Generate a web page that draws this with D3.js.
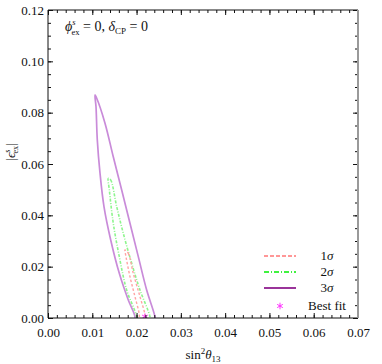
<!DOCTYPE html>
<html>
<head>
<meta charset="utf-8">
<script src="https://cdn.jsdelivr.net/npm/d3@7"></script>
<style>
  body { margin: 0; background: #fff; }
  text { font-family: "Liberation Serif", "DejaVu Serif", serif; fill: #111; }
</style>
</head>
<body>
<div id="chart"></div>
<script>
// contour points: [sin^2 theta13, |eps^s_ex|]
// each list goes from the tip down the right edge, then back up the left edge
const sigma3 = [
  [0.01061, 0.0869], [0.0110, 0.0856], [0.01287, 0.0759], [0.01474, 0.0628],
  [0.01664, 0.0499], [0.01851, 0.0369], [0.02039, 0.0239], [0.02228, 0.0109],
  [0.02416, 0.0005], [0.0244, -0.003], [0.0196, -0.003],
  [0.01964, 0.0005], [0.01813, 0.0070], [0.01610, 0.0174], [0.01416, 0.0304],
  [0.01264, 0.0434], [0.01174, 0.0565], [0.01113, 0.0694], [0.01084, 0.0823]
];
const sigma2 = [
  [0.01362, 0.0544], [0.01415, 0.0538], [0.01551, 0.0434], [0.0170, 0.0330],
  [0.0189, 0.0213], [0.02077, 0.0109], [0.02303, 0.0005], [0.0232, -0.003],
  [0.0200, -0.003], [0.02002, 0.0005], [0.01776, 0.0109], [0.0161, 0.0239],
  [0.01474, 0.0369], [0.01385, 0.0499]
];
const sigma1 = [
  [0.01739, 0.0265], [0.01813, 0.0252], [0.01926, 0.0174], [0.02077, 0.0083],
  [0.0219, 0.0012], [0.0220, -0.003], [0.0206, -0.003], [0.02062, 0.0012],
  [0.01964, 0.0083], [0.01851, 0.0161], [0.01761, 0.0239]
];
const best_fit = [0.0219, 0.0005];

const x_ticks = [0, 0.01, 0.02, 0.03, 0.04, 0.05, 0.06, 0.07];
const y_ticks = [0, 0.02, 0.04, 0.06, 0.08, 0.10, 0.12];
const legend_labels = ['1σ', '2σ', '3σ'];
const legend_colors = ['#ff7575', '#00ee00', '#800080'];
const legend_dash = ['4,2', '5,2,1,2', null];

const margin = { top: 10, right: 24, bottom: 46, left: 48 };
const width = 382 - margin.left - margin.right;
const height = 364 - margin.top - margin.bottom;

const x = d3.scaleLinear().domain([0, 0.07]).range([0, width]);
const y = d3.scaleLinear().domain([0, 0.12]).range([height, 0]);

const svg = d3.select('#chart')
  .append('svg')
  .attr('width', 382)
  .attr('height', 364)
  .append('g')
  .attr('transform', `translate(${margin.left}, ${margin.top})`);

svg.append('clipPath')
  .attr('id', 'clip')
  .append('rect')
  .attr('width', width)
  .attr('height', height);

const contour = d3.line()
  .x((d) => x(d[0]))
  .y((d) => y(d[1]))
  .curve(d3.curveCatmullRomClosed.alpha(0.5));

const plot = svg.append('g').attr('clip-path', 'url(#clip)');

plot.append('path')
  .attr('d', contour(sigma3))
  .attr('fill', 'none')
  .attr('stroke', '#c98bd9')
  .attr('stroke-width', 1.7);

plot.append('path')
  .attr('d', contour(sigma2))
  .attr('fill', 'none')
  .attr('stroke', '#8df58d')
  .attr('stroke-width', 1.6)
  .attr('stroke-dasharray', '3,1.5,1,1.5');

plot.append('path')
  .attr('d', contour(sigma1))
  .attr('fill', 'none')
  .attr('stroke', '#ffa3a3')
  .attr('stroke-width', 1.4)
  .attr('stroke-dasharray', '2.5,2');

const star = d3.symbol().type(d3.symbolAsterisk).size(30);
plot.append('path')
  .attr('d', star())
  .attr('transform', `translate(${x(best_fit[0])}, ${y(best_fit[1])})`)
  .attr('fill', 'none')
  .attr('stroke', '#ff33ff')
  .attr('stroke-width', 1);

// axes: ticks point inward
const minor_x = d3.range(0, 0.0701, 0.002);
const minor_y = d3.range(0, 0.1201, 0.005);

function style_axis(g) {
  g.selectAll('path.domain').remove();
  g.selectAll('line').attr('stroke', '#111');
  g.selectAll('text')
    .style('font-size', '13px')
    .style('font-family', '"Liberation Serif", serif');
}

svg.append('g')
  .attr('transform', `translate(0, ${height})`)
  .call(d3.axisBottom(x).tickValues(minor_x).tickSize(-3).tickFormat(''))
  .call(style_axis);
svg.append('g')
  .attr('transform', `translate(0, ${height})`)
  .call(d3.axisBottom(x).tickValues(x_ticks).tickSize(-5).tickPadding(10).tickFormat(d3.format('.2f')))
  .call(style_axis);

svg.append('g')
  .call(d3.axisTop(x).tickValues(minor_x).tickSize(-3).tickFormat(''))
  .call(style_axis);
svg.append('g')
  .call(d3.axisTop(x).tickValues(x_ticks).tickSize(-5).tickFormat(''))
  .call(style_axis);

svg.append('g')
  .call(d3.axisLeft(y).tickValues(minor_y).tickSize(-3).tickFormat(''))
  .call(style_axis);
svg.append('g')
  .call(d3.axisLeft(y).tickValues(y_ticks).tickSize(-5).tickPadding(4).tickFormat(d3.format('.2f')))
  .call(style_axis);

svg.append('g')
  .attr('transform', `translate(${width}, 0)`)
  .call(d3.axisRight(y).tickValues(minor_y).tickSize(-3).tickFormat(''))
  .call(style_axis);
svg.append('g')
  .attr('transform', `translate(${width}, 0)`)
  .call(d3.axisRight(y).tickValues(y_ticks).tickSize(-5).tickFormat(''))
  .call(style_axis);

// frame
svg.append('line').attr('x1', 0).attr('x2', width).attr('y1', height).attr('y2', height).attr('stroke', '#111');
svg.append('line').attr('x1', 0).attr('x2', width).attr('y1', 0).attr('y2', 0).attr('stroke', '#111');
svg.append('line').attr('x1', 0).attr('x2', 0).attr('y1', 0).attr('y2', height).attr('stroke', '#111');
svg.append('line').attr('x1', width).attr('x2', width).attr('y1', 0).attr('y2', height)
  .attr('stroke', '#9a9a9a').attr('stroke-width', 2);

// axis titles
const xl = svg.append('text')
  .attr('x', width / 2)
  .attr('y', height + 41)
  .attr('text-anchor', 'middle')
  .style('font-size', '13px');
xl.append('tspan').text('sin');
xl.append('tspan').attr('dy', -5).style('font-size', '9px').text('2');
xl.append('tspan').attr('dy', 5).style('font-style', 'italic').text('θ');
xl.append('tspan').attr('dy', 3).style('font-size', '9px').text('13');

const yl = svg.append('text')
  .attr('transform', `translate(${-33}, ${142}) rotate(-90)`)
  .attr('text-anchor', 'middle')
  .style('font-size', '13px');
yl.append('tspan').text('|');
yl.append('tspan').style('font-style', 'italic').text('ϵ');
yl.append('tspan').attr('dy', -5).style('font-size', '8px').style('font-style', 'italic').text('s');
yl.append('tspan').attr('dx', -4).attr('dy', 8).style('font-size', '8px').text('ex');
yl.append('tspan').attr('dy', -3).text('|');

// annotation (superscript s stacked over subscript ex)
const ann = svg.append('text')
  .attr('x', 17)
  .attr('y', 21)
  .style('font-size', '14px');
ann.append('tspan').style('font-style', 'italic').text('ϕ');
ann.append('tspan').attr('dy', -6).style('font-size', '8.5px').style('font-style', 'italic').text('s');
ann.append('tspan').attr('dx', -4).attr('dy', 10).style('font-size', '8.5px').text('ex');
ann.append('tspan').attr('dy', -4).text(' = 0, ');
ann.append('tspan').style('font-style', 'italic').text('δ');
ann.append('tspan').attr('dy', 3).style('font-size', '9px').text('CP');
ann.append('tspan').attr('dy', -3).text(' = 0');

// legend
const leg = svg.append('g').attr('transform', `translate(${216}, ${246})`);
for (let i = 0; i < legend_labels.length; i++) {
  let cy = 16 * i;
  let l = leg.append('line')
    .attr('x1', 0).attr('x2', 32)
    .attr('y1', cy).attr('y2', cy)
    .attr('stroke', legend_colors[i])
    .attr('stroke-width', 1.6);
  if (legend_dash[i]) l.attr('stroke-dasharray', legend_dash[i]);
  let t = leg.append('text')
    .attr('x', 63).attr('y', cy + 4)
    .attr('text-anchor', 'middle')
    .style('font-size', '13px');
  t.append('tspan').text(legend_labels[i][0]);
  t.append('tspan').style('font-style', 'italic').text(legend_labels[i].slice(1));
}
leg.append('path')
  .attr('d', star())
  .attr('transform', `translate(16, ${50})`)
  .attr('fill', 'none')
  .attr('stroke', '#ff33ff')
  .attr('stroke-width', 1);
leg.append('text')
  .attr('x', 63).attr('y', 54)
  .attr('text-anchor', 'middle')
  .style('font-size', '13px')
  .text('Best fit');
</script>
</body>
</html>
